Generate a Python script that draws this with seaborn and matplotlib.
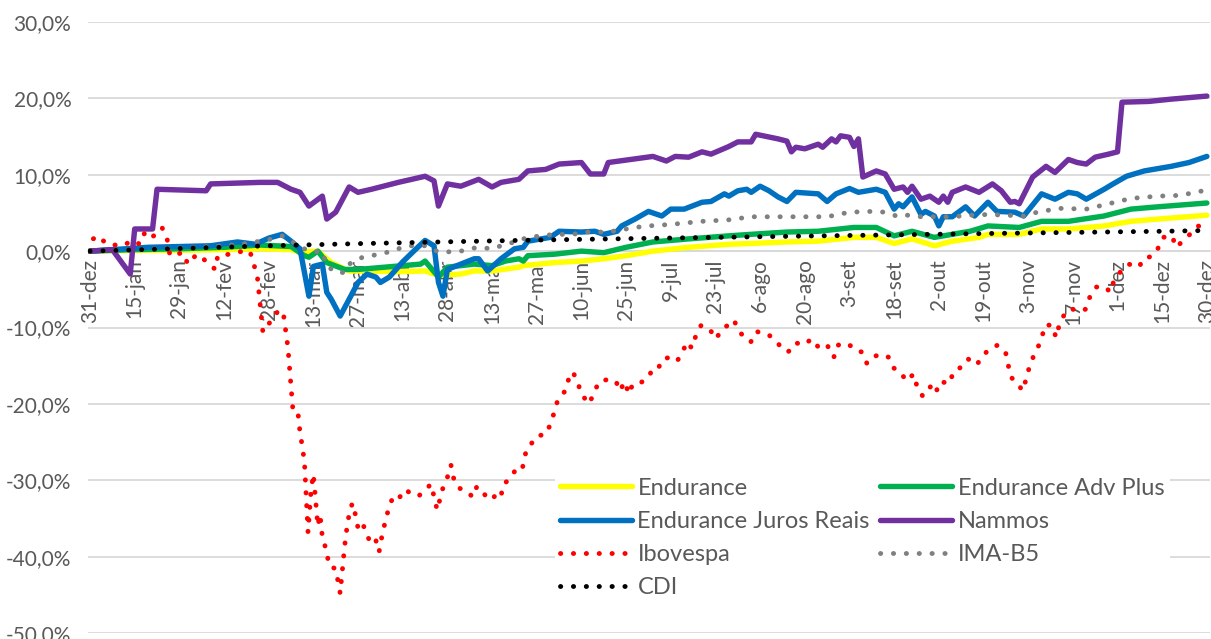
import matplotlib
matplotlib.use("Agg")
import matplotlib.pyplot as plt
import matplotlib.ticker as mtick
import seaborn as sns

# x = trading day index since 31-dez (labels every 10 trading days)
xlabels = ["31-dez", "15-jan", "29-jan", "12-fev", "28-fev", "13-mar", "27-mar", "13-abr",
           "28-abr", "13-mai", "27-mai", "10-jun", "25-jun", "9-jul", "23-jul", "6-ago",
           "20-ago", "3-set", "18-set", "2-out", "19-out", "3-nov", "17-nov", "1-dez",
           "15-dez", "30-dez"]

endurance_day = [0, 10, 20, 30, 38, 45, 47, 51, 54, 58, 62, 69, 75, 78, 83, 86, 90, 96, 97, 104,
                 110, 115, 120, 126, 134, 143, 148, 156, 163, 171, 176, 180, 184, 189, 193, 199,
                 201, 208, 213, 219, 227, 233, 239, 250]
endurance = [0.0, 0.1, 0.1, 0.2, 0.3, 0.2, -0.1, 0.0, -1.5, -2.6, -2.6, -2.7, -2.6, -3.2, -3.0,
             -2.6, -2.6, -2.1, -1.9, -1.5, -1.3, -1.0, -0.6, 0.0, 0.5, 0.9, 1.0, 1.2, 1.3, 1.8,
             1.8, 1.0, 1.6, 0.7, 1.3, 1.8, 2.2, 2.2, 2.9, 2.9, 3.3, 3.9, 4.2, 4.7]

adv_day = [0, 10, 20, 30, 38, 45, 48, 49, 51, 53, 57, 60, 68, 74, 75, 78, 80, 86, 90, 93, 96, 97,
           98, 104, 110, 115, 120, 126, 134, 143, 148, 156, 163, 171, 176, 180, 184, 189, 193,
           197, 201, 208, 213, 219, 227, 233, 239, 250]
adv_plus = [0.0, 0.2, 0.3, 0.5, 0.8, 0.6, -0.6, -0.8, 0.0, -1.5, -2.4, -2.4, -2.0, -1.7, -1.3,
            -3.4, -2.1, -1.7, -1.9, -1.3, -1.0, -1.3, -0.6, -0.4, 0.0, -0.2, 0.5, 1.2, 1.6, 2.0,
            2.2, 2.5, 2.6, 3.1, 3.1, 2.0, 2.6, 1.8, 2.2, 2.6, 3.3, 3.1, 3.9, 3.9, 4.6, 5.5, 5.8, 6.3]

juros_day = [0, 13, 27, 33, 37, 40, 43, 45, 47, 49, 50, 52, 53, 54, 56, 58, 60, 62, 64, 65, 67,
             70, 73, 75, 77, 78, 79, 80, 83, 86, 87, 89, 92, 95, 97, 98, 103, 105, 110, 113, 115,
             118, 119, 122, 125, 128, 130, 133, 137, 139, 142, 143, 145, 147, 148, 150, 152, 154,
             156, 158, 163, 165, 167, 170, 172, 176, 178, 180, 181, 182, 184, 186, 187, 189, 190,
             191, 193, 196, 198, 201, 203, 207, 209, 213, 216, 219, 221, 223, 227, 229, 232, 236,
             242, 246, 250]
juros_reais = [0.0, 0.5, 0.7, 1.2, 0.9, 1.7, 2.2, 1.3, 0.3, -5.9, -2.0, -1.7, -5.4, -6.3, -8.5,
               -6.3, -4.1, -3.0, -3.4, -4.1, -3.4, -1.4, 0.3, 1.4, 0.7, -4.1, -5.9, -2.4, -1.7,
               -1.0, -1.0, -2.6, -1.0, 0.3, 0.5, 1.3, 1.8, 2.6, 2.5, 2.6, 2.2, 2.6, 3.3, 4.2, 5.2,
               4.6, 5.5, 5.5, 6.4, 6.5, 7.5, 7.2, 7.9, 8.1, 7.7, 8.5, 7.9, 7.1, 6.5, 7.7, 7.5, 6.5,
               7.5, 8.2, 7.7, 8.1, 7.7, 5.5, 6.2, 5.8, 7.1, 4.8, 5.2, 4.6, 3.3, 4.5, 4.5, 5.8, 4.6,
               6.4, 5.2, 5.1, 4.6, 7.5, 6.8, 7.7, 7.5, 6.8, 8.1, 8.8, 9.8, 10.5, 11.1, 11.6, 12.4]

nammos_day = [0, 5, 9, 10, 14, 15, 26, 27, 38, 42, 45, 47, 49, 52, 53, 55, 58, 60, 63, 69, 75, 77,
              78, 80, 83, 87, 90, 92, 96, 98, 102, 105, 110, 112, 115, 116, 121, 126, 129, 131,
              134, 137, 139, 143, 145, 148, 149, 154, 156, 157, 158, 160, 163, 164, 166, 167, 168,
              170, 171, 172, 173, 176, 178, 180, 182, 183, 184, 186, 188, 190, 191, 192, 193, 196,
              199, 202, 204, 206, 207, 208, 211, 214, 216, 219, 221, 223, 225, 228, 230, 231, 237,
              242, 250]
nammos = [0.0, 0.2, -3.0, 2.9, 2.9, 8.1, 7.9, 8.8, 9.0, 9.0, 8.1, 7.7, 5.9, 7.2, 4.2, 5.1, 8.4,
          7.7, 8.1, 9.0, 9.8, 9.2, 5.9, 8.8, 8.5, 9.4, 8.4, 9.0, 9.4, 10.5, 10.7, 11.4, 11.6, 10.1,
          10.1, 11.6, 12.0, 12.4, 11.8, 12.4, 12.3, 13.0, 12.7, 13.7, 14.3, 14.3, 15.3, 14.7, 14.4,
          13.0, 13.6, 13.4, 14.0, 13.6, 14.7, 14.3, 15.1, 14.9, 13.7, 14.7, 9.7, 10.5, 10.1, 8.1,
          8.4, 7.7, 8.5, 6.8, 7.2, 6.4, 7.2, 6.4, 7.7, 8.4, 7.7, 8.8, 7.9, 6.4, 6.5, 6.2, 9.7, 11.1,
          10.3, 12.0, 11.6, 11.4, 12.3, 12.7, 13.0, 19.5, 19.6, 19.9, 20.3]

ibov_day = [0.0, 0.7, 1.8, 3.8, 7.4, 9.4, 11.2, 12.3, 13.9, 16.1, 17.2, 17.9, 20.8, 21.9, 23.9,
            26.9, 28.0, 28.6, 31.3, 34.2, 35.8, 36.5, 37.4, 38.7, 40.3, 41.9, 43.2, 44.3, 45.4,
            46.5, 47.0, 47.5, 48.0, 48.8, 49.5, 50.0, 51.0, 51.5, 52.0, 53.0, 53.5, 55.0, 56.0,
            57.0, 57.7, 58.7, 59.5, 60.0, 61.0, 62.0, 63.0, 64.0, 64.7, 65.5, 66.8, 67.8, 69.0,
            70.5, 72.0, 73.5, 75.2, 76.3, 77.0, 77.7, 79.0, 80.0, 80.8, 81.3, 82.4, 84.0, 85.7,
            86.6, 88.0, 89.7, 91.1, 92.0, 92.4, 93.6, 95.1, 96.7, 97.1, 97.8, 99.1, 100.0, 102.0,
            103.2, 104.7, 106.5, 107.2, 108.1, 109.2, 110.1, 111.7, 112.8, 113.9, 115.9, 117.7,
            118.6, 119.7, 120.6, 121.5, 123.1, 125.1, 126.0, 127.4, 128.2, 130.0, 131.4, 132.5,
            133.6, 134.7, 135.6, 136.8, 138.8, 140.1, 141.5, 142.8, 144.1, 145.3, 146.8, 147.9,
            149.3, 150.4, 152.0, 153.8, 154.9, 156.2, 157.1, 158.0, 159.6, 161.6, 163.2, 165.0,
            166.5, 167.2, 168.5, 170.3, 171.7, 172.8, 173.9, 175.0, 177.0, 178.8, 179.9, 181.7,
            182.6, 184.4, 185.1, 186.4, 188.2, 189.3, 190.2, 192.5, 193.2, 194.7, 196.5, 198.5,
            199.9, 201.7, 203.2, 205.0, 206.1, 207.9, 208.6, 209.5, 210.2, 211.1, 212.2, 213.1,
            214.0, 215.5, 216.2, 216.9, 218.0, 219.6, 221.1, 222.9, 223.8, 225.2, 227.4, 228.3,
            229.2, 230.8, 232.5, 234.8, 235.9, 237.7, 239.0, 240.2, 242.2, 243.1, 244.4, 246.2,
            248.0, 250.0]
ibovespa = [0.0, 1.6, 2.0, 0.9, 0.7, 1.4, 0.9, 2.5, 1.8, 3.1, 1.8, -0.6, -0.2, -1.7, -0.4, -1.7,
            -2.4, -0.6, -0.4, 0.0, 0.0, -1.5, -3.0, -10.6, -9.3, -8.0, -7.8, -12.6, -20.7, -20.9,
            -23.7, -25.5, -27.6, -36.8, -31.2, -29.2, -36.0, -34.5, -37.4, -39.4, -41.2, -41.6,
            -44.8, -38.6, -35.3, -33.0, -34.7, -36.3, -35.6, -37.2, -38.4, -37.9, -39.4, -36.8,
            -33.8, -32.2, -32.5, -31.2, -31.8, -32.1, -31.2, -30.5, -32.1, -33.9, -31.0, -29.6,
            -28.0, -29.6, -31.0, -31.3, -32.2, -30.8, -31.7, -32.6, -31.8, -32.2, -30.6, -30.0,
            -28.8, -28.8, -27.4, -25.8, -25.0, -24.2, -24.0, -22.5, -19.5, -18.2, -16.6, -15.8,
            -17.3, -18.8, -20.0, -18.6, -17.1, -16.8, -17.0, -18.3, -17.1, -18.7, -17.4, -17.3,
            -16.5, -15.2, -15.1, -14.1, -13.9, -14.4, -13.4, -11.9, -12.7, -11.1, -9.7, -10.3,
            -11.5, -10.2, -9.7, -9.0, -10.5, -11.5, -11.9, -10.5, -10.9, -11.0, -11.9, -12.8,
            -13.2, -12.8, -12.0, -12.3, -11.5, -12.7, -12.3, -13.9, -12.4, -12.0, -12.4, -13.1,
            -13.2, -14.7, -13.9, -13.5, -13.9, -15.3, -16.0, -17.0, -16.1, -17.7, -19.0, -17.7,
            -18.6, -17.1, -17.3, -15.8, -15.3, -14.1, -14.9, -13.6, -12.7, -12.3, -13.4, -16.5,
            -17.4, -18.3, -16.9, -15.3, -13.9, -12.6, -11.1, -9.6, -9.8, -11.3, -9.8, -8.4, -7.5,
            -7.9, -7.6, -6.0, -4.7, -4.7, -5.4, -3.9, -2.6, -1.7, -2.1, -0.9, -0.7, 0.3, 1.8, 2.0,
            0.5, 1.2, 2.2, 3.3, 2.9]

imab5_day = [0, 10, 20, 30, 35, 40, 43, 45, 48, 50, 52, 53, 55, 57, 58, 61, 63, 67, 69, 71, 75,
             78, 80, 83, 85, 87, 90, 92, 95, 98, 101, 104, 108, 111, 116, 122, 125, 130, 137, 143,
             148, 156, 165, 170, 175, 178, 181, 183, 186, 193, 197, 201, 209, 212, 217, 223, 228,
             233, 239, 244, 250]
imab5 = [0.0, 0.2, 0.4, 0.7, 1.0, 1.5, 2.0, 1.3, 0.3, -0.1, 0.0, -1.9, -2.8, -2.8, -1.7, -0.8,
         -0.6, -0.1, 0.3, 0.7, 0.7, -0.1, -0.1, 0.0, 0.3, 0.5, 0.3, 0.7, 1.2, 1.8, 2.0, 2.2, 2.2,
         2.5, 2.5, 3.1, 3.3, 3.5, 3.9, 4.1, 4.5, 4.5, 4.5, 5.1, 5.2, 5.1, 4.5, 4.7, 4.5, 4.5, 4.7,
         4.8, 4.6, 5.1, 5.6, 5.5, 6.2, 6.9, 7.2, 7.3, 8.0]

cdi_day = [0, 20, 40, 60, 80, 100, 120, 140, 160, 180, 200, 220, 240, 250]
cdi = [0.0, 0.35, 0.7, 0.98, 1.22, 1.45, 1.63, 1.8, 1.97, 2.13, 2.3, 2.45, 2.6, 2.7]

sns.set_style("white")
plt.rcParams['font.family'] = ['Lato', 'DejaVu Sans']
text_gray = "#595959"
grid_gray = "#D9D9D9"

fig, ax = plt.subplots(figsize=(12.11, 6.39), dpi=100)
fig.subplots_adjust(left=88 / 1211, right=1210 / 1211, top=1 - 22 / 639, bottom=1 - 633 / 639)

solid = dict(linewidth=3.9, solid_capstyle="round", solid_joinstyle="round")
dotted = dict(linewidth=3.5, linestyle=(0, (0.05, 2.6)), dash_capstyle="round")

series = [
    ("Endurance", endurance_day, endurance, "#FFFF00", solid),
    ("Endurance Adv Plus", adv_day, adv_plus, "#00B050", solid),
    ("Endurance Juros Reais", juros_day, juros_reais, "#0070C0", solid),
    ("Nammos", nammos_day, nammos, "#7030A0", solid),
    ("Ibovespa", ibov_day, ibovespa, "#FF0000", dotted),
    ("IMA-B5", imab5_day, imab5, "#808080", dotted),
    ("CDI", cdi_day, cdi, "#000000", dotted),
]
for name, xs, ys, col, style in series:
    sns.lineplot(x=xs, y=ys, ax=ax, color=col, label=name, estimator=None, sort=False,
                 legend=False, **style)

ax.set_xlim(-0.45, 250.7)
ax.set_ylim(-50, 30)
ax.set_yticks(range(-50, 31, 10))
ax.yaxis.set_major_formatter(mtick.FuncFormatter(lambda v, _: f"{v:.1f}%".replace(".", ",")))
ax.yaxis.grid(True, color=grid_gray, linewidth=1.3)
ax.xaxis.grid(False)
ax.set_axisbelow(True)
for s in ["top", "right", "left"]:
    ax.spines[s].set_visible(False)
ax.spines["bottom"].set_position(("data", 0))
ax.spines["bottom"].set_color(grid_gray)
ax.spines["bottom"].set_linewidth(1.3)
ax.spines["bottom"].set_zorder(0.5)

ax.set_xticks(range(0, 251, 10))
ax.set_xticklabels(xlabels, rotation=90)
ax.xaxis.set_minor_locator(mtick.MultipleLocator(1))
ax.tick_params(axis="x", which="both", direction="out", length=5, width=1, color=grid_gray)
ax.tick_params(axis="x", which="major", labelsize=15, labelcolor=text_gray, pad=1)
ax.tick_params(axis="y", length=0, labelsize=15, labelcolor=text_gray, pad=12)
ax.set_xlabel("")
ax.set_ylabel("")

handles, labels = ax.get_legend_handles_labels()
order = [0, 2, 4, 6, 1, 3, 5]
leg = ax.legend([handles[i] for i in order], [labels[i] for i in order], ncol=2,
                loc="upper left", bbox_to_anchor=(543 / 1211, 1 - 461 / 639),
                bbox_transform=fig.transFigure, fontsize=17, frameon=True, facecolor="white",
                edgecolor="none", framealpha=1, fancybox=False, handlelength=3.05,
                handletextpad=0.25, columnspacing=0.45, labelspacing=0.52, borderpad=0.2)
for t in leg.get_texts():
    t.set_color(text_gray)

fig.savefig("out.png", dpi=100)
